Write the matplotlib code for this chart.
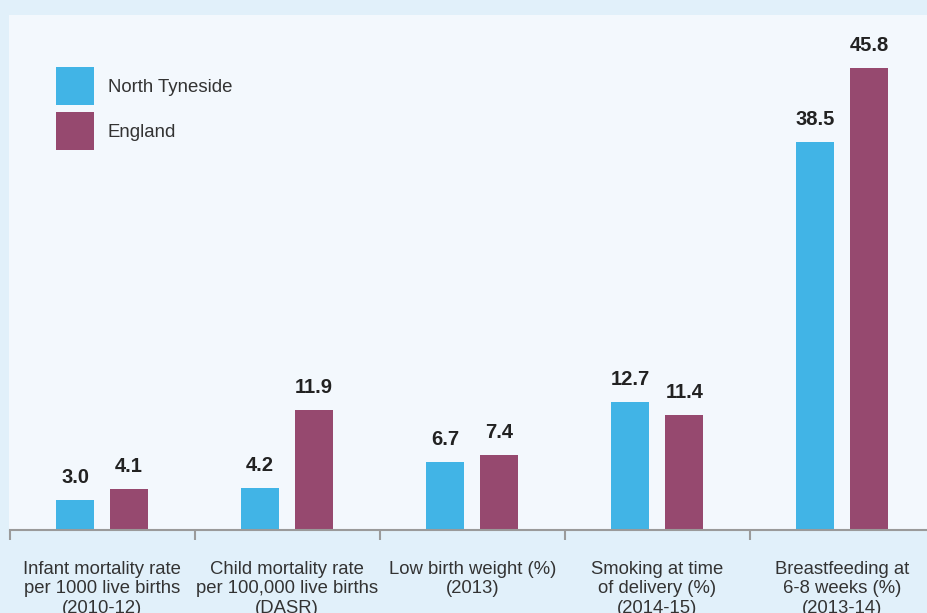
import matplotlib
matplotlib.use("Agg")
import matplotlib.pyplot as plt
import numpy as np

categories = [
    "Infant mortality rate\nper 1000 live births\n(2010-12)",
    "Child mortality rate\nper 100,000 live births\n(DASR)",
    "Low birth weight (%)\n(2013)",
    "Smoking at time\nof delivery (%)\n(2014-15)",
    "Breastfeeding at\n6-8 weeks (%)\n(2013-14)",
]
north_tyneside = [3.0, 4.2, 6.7, 12.7, 38.5]
england = [4.1, 11.9, 7.4, 11.4, 45.8]
series_names = ["North Tyneside", "England"]

blue = "#41b4e6"
purple = "#96496f"
outer_bg = "#e1f0fa"
inner_bg = "#f3f8fd"

fig = plt.figure(figsize=(9.28, 6.13), dpi=100, facecolor=outer_bg)
W, H = 928, 613
ax = fig.add_axes([9.5 / W, (H - 530) / H, 1 - 9.5 / W, (530 - 15) / H])
ax.set_facecolor(inner_bg)

x = np.arange(len(categories))
off = 27 / 185
bw = 38 / 185
b1 = ax.bar(x - off, north_tyneside, bw, color=blue, label=series_names[0])
b2 = ax.bar(x + off, england, bw, color=purple, label=series_names[1])

label_font = dict(family=["Liberation Sans", "DejaVu Sans"], fontweight="bold",
                  fontsize=14.5, color="#222222")
for bars, vals in ((b1, north_tyneside), (b2, england)):
    for r, v in zip(bars, vals):
        ax.annotate(f"{v:.1f}", (r.get_x() + r.get_width() / 2, v),
                    xytext=(0, 13), textcoords="offset pixels",
                    ha="center", va="bottom", **label_font)

ax.set_xlim(-0.5, 4.5 - 7 / 185)
ax.set_ylim(0, 51.04)

for s in ("top", "right", "left"):
    ax.spines[s].set_visible(False)
ax.spines["bottom"].set_color("#9a9a9a")
ax.spines["bottom"].set_linewidth(1.5)
ax.set_yticks([])
ax.set_xticks(x)
ax.set_xticklabels(categories, family=["Liberation Sans", "DejaVu Sans"], fontsize=13.3,
                   color="#333333", linespacing=1.21)
ax.set_xticks(np.arange(-0.5, 4.5, 1), minor=True)
ax.tick_params(axis="x", which="major", length=0, pad=22)
ax.tick_params(axis="x", which="minor", length=7, width=1.5, color="#9a9a9a", direction="out")

leg = ax.legend(loc="upper left", bbox_to_anchor=((56 - 9.5) / 918.5, (530 - 67) / 515),
                frameon=False, borderpad=0, borderaxespad=0,
                prop=dict(family=["Liberation Sans", "DejaVu Sans"], size=13.4),
                handlelength=2.04, handleheight=2.76, labelspacing=0.38,
                handletextpad=0.75)
for t in leg.get_texts():
    t.set_color("#333333")

fig.savefig("out.png", dpi=100, facecolor=outer_bg)
